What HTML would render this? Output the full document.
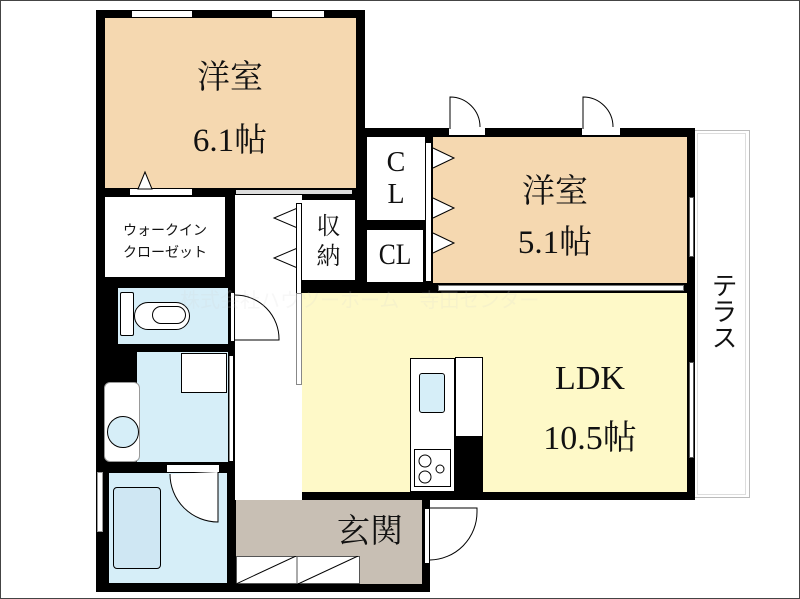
<!DOCTYPE html>
<html><head><meta charset="utf-8"><style>
body{margin:0;width:800px;height:599px;background:#fff;position:relative;overflow:hidden;font-family:"Liberation Serif","Noto Serif CJK SC",serif}
div{position:absolute;box-sizing:border-box}
.k{background:#000}
.w{background:#fff}
.t{color:#111;text-align:center;line-height:1}
</style></head><body>
<div style="left:0;top:0;width:800px;height:599px;border:1px solid #444"></div>
<!-- terrace -->
<div style="left:693px;top:130px;width:57px;height:368px;border:1px solid #bbb"></div>
<div style="left:697px;top:133px;width:49px;height:362px;border:1px solid #ddd"></div>
<div class="t" style="left:706px;top:272px;width:30px;font-size:26px;font-family:'Liberation Sans','Noto Sans CJK JP',sans-serif;writing-mode:vertical-rl">テラス</div>

<div class="k" style="left:96px;top:10px;width:269px;height:582px"></div>
<div class="k" style="left:96px;top:128px;width:599px;height:372px"></div>
<div class="k" style="left:96px;top:490px;width:334px;height:102px"></div>

<!-- 6.1 room -->
<div style="left:105px;top:18px;width:251px;height:170px;background:#f5d8b0"></div>
<div class="w" style="left:132px;top:11px;width:60px;height:6px"></div>
<div class="w" style="left:272px;top:11px;width:52px;height:6px"></div>
<div class="w" style="left:130px;top:189px;width:62px;height:6px"></div>
<div class="t" style="left:150px;top:62px;width:160px;font-size:33px">洋室</div>
<div class="t" style="left:150px;top:125px;width:160px;font-size:33px">6.1帖</div>
<svg style="position:absolute;left:136px;top:170px" width="18" height="20"><polygon points="2,19 9,2 16,19" fill="#fff" stroke="#000"/></svg>

<!-- walk-in closet -->
<div class="w" style="left:105px;top:197px;width:120px;height:80px"></div>
<div class="t" style="left:105px;top:219px;width:120px;font-size:14px;font-family:'Liberation Sans','Noto Sans CJK JP',sans-serif;line-height:22px">ウォークイン<br>クローゼット</div>

<!-- hallway -->
<div class="w" style="left:235px;top:195px;width:67px;height:305px"></div>
<div style="left:236px;top:190px;width:116px;height:4px;background:#ddd"></div>
<svg style="position:absolute;left:270px;top:205px" width="30" height="70"><polyline points="30,2 4,13 30,24" fill="none" stroke="#000"/><polyline points="30,42 4,53 30,64" fill="none" stroke="#000"/></svg>
<div style="left:296px;top:203px;width:6px;height:96px;background:#fff;border:1px solid #000"></div>
<div class="w" style="left:302px;top:200px;width:53px;height:80px"></div>
<div class="t" style="left:302px;top:212px;width:53px;font-size:24px;line-height:30px">収<br>納</div>

<!-- toilet -->
<div style="left:118px;top:288px;width:110px;height:56px;background:#d6eef8"></div>
<div class="w" style="left:120px;top:292px;width:14px;height:44px;border:1px solid #000;border-radius:2px"></div>
<div style="left:134px;top:302px;width:56px;height:28px;border:1px solid #000;border-radius:16px;background:#fff"></div>
<div style="left:152px;top:306px;width:34px;height:18px;border:1px solid #000;border-radius:10px"></div>
<div class="w" style="left:230px;top:292px;width:5px;height:50px;border:1px solid #000"></div>
<svg style="position:absolute;left:234px;top:290px" width="50" height="60"><path d="M1,50 L45,50 A44,44 0 0 0 1,5" fill="none" stroke="#000"/></svg>

<!-- wash -->
<div style="left:137px;top:352px;width:91px;height:110px;background:#d6eef8"></div>
<div class="w" style="left:181px;top:353px;width:46px;height:40px;border:1px solid #000"></div>
<div style="left:104px;top:382px;width:36px;height:80px;background:#fff;border:1px solid #999;border-radius:6px"></div>
<div style="left:107px;top:416px;width:32px;height:32px;border:1px solid #000;border-radius:50%;background:#d6eef8"></div>
<div class="w" style="left:229px;top:356px;width:4px;height:105px;border-left:1px solid #888"></div>

<!-- bath -->
<div style="left:108px;top:472px;width:120px;height:112px;background:#d6eef8;border:1px solid #000"></div>
<div style="left:113px;top:487px;width:48px;height:82px;border:1px solid #000;border-radius:4px;background:#cfe7f3"></div>
<div class="w" style="left:167px;top:465px;width:52px;height:7px"></div>
<svg style="position:absolute;left:168px;top:470px" width="60" height="60"><path d="M50,2 L50,52 A48,48 0 0 1 2,4" fill="#fff" stroke="#000"/></svg>
<div class="w" style="left:97px;top:472px;width:6px;height:60px;border:1px solid #999"></div>

<!-- genkan -->
<div style="left:236px;top:500px;width:186px;height:84px;background:#c8bfb4"></div>
<div class="w" style="left:236px;top:556px;width:124px;height:28px;border:1px solid #555"></div>
<svg style="position:absolute;left:236px;top:556px" width="124" height="28"><line x1="0" y1="28" x2="60" y2="0" stroke="#000"/><line x1="62" y1="28" x2="122" y2="0" stroke="#000"/><line x1="61" y1="0" x2="61" y2="28" stroke="#555"/></svg>
<div class="t" style="left:330px;top:516px;width:80px;font-size:33px">玄関</div>
<div class="w" style="left:424px;top:508px;width:6px;height:56px;border:1px solid #000"></div>
<svg style="position:absolute;left:429px;top:505px" width="50" height="60"><path d="M1,3 L48,3 L48,7 M1,55 A48,48 0 0 0 48,7" fill="none" stroke="#000"/></svg>

<!-- CL -->
<div class="w" style="left:367px;top:137px;width:58px;height:83px"></div>
<div class="t" style="left:367px;top:147px;width:58px;font-size:28px;line-height:32px">C<br>L</div>
<div class="w" style="left:367px;top:230px;width:56px;height:52px"></div>
<div class="t" style="left:367px;top:240px;width:56px;font-size:30px;transform:scaleX(.85)">CL</div>
<div class="w" style="left:425px;top:142px;width:7px;height:140px;border:1px solid #000"></div>

<!-- 5.1 room -->
<div style="left:433px;top:137px;width:254px;height:146px;background:#f5d8b0"></div>
<svg style="position:absolute;left:432px;top:140px" width="25" height="140"><polyline points="1,8 22,18 1,28" fill="#fff" stroke="#000"/><polyline points="1,58 22,68 1,78" fill="#fff" stroke="#000"/><polyline points="1,93 22,103 1,113" fill="#fff" stroke="#000"/></svg>
<div class="t" style="left:470px;top:176px;width:170px;font-size:33px">洋室</div>
<div class="t" style="left:470px;top:227px;width:170px;font-size:33px">5.1帖</div>
<div class="w" style="left:689px;top:197px;width:5px;height:60px;border:1px solid #555"></div>
<div class="w" style="left:449px;top:128px;width:36px;height:7px"></div>
<svg style="position:absolute;left:448px;top:95px" width="40" height="35"><path d="M2,34 L2,2 A30,30 0 0 1 32,32" fill="#fff" stroke="#000"/></svg>
<div class="w" style="left:582px;top:128px;width:38px;height:7px"></div>
<svg style="position:absolute;left:581px;top:95px" width="40" height="35"><path d="M2,34 L2,2 A30,30 0 0 1 32,32" fill="#fff" stroke="#000"/></svg>
<div class="w" style="left:438px;top:285px;width:246px;height:6px;border:1px solid #777"></div>

<!-- LDK -->
<div style="left:302px;top:293px;width:385px;height:199px;background:#fef9c8"></div>
<div class="w" style="left:296px;top:293px;width:6px;height:92px;border:1px solid #888"></div>
<div class="w" style="left:689px;top:362px;width:5px;height:96px;border:1px solid #555"></div>
<div class="w" style="left:410px;top:358px;width:45px;height:134px;border:1px solid #000"></div>
<div style="left:419px;top:373px;width:26px;height:40px;background:#d6eef8;border:1px solid #000;border-radius:3px"></div>
<div class="w" style="left:414px;top:449px;width:37px;height:38px;border:1px solid #000"></div>
<svg style="position:absolute;left:414px;top:449px" width="37" height="38"><circle cx="11" cy="12" r="6" fill="none" stroke="#000"/><circle cx="11" cy="28" r="6" fill="none" stroke="#000"/><circle cx="26" cy="20" r="4" fill="none" stroke="#000"/></svg>
<div class="w" style="left:455px;top:357px;width:28px;height:80px;border:1px solid #000"></div>
<div class="k" style="left:455px;top:436px;width:28px;height:56px"></div>
<div class="t" style="left:510px;top:362px;width:160px;font-size:34px">LDK</div>
<div class="t" style="left:510px;top:422px;width:160px;font-size:34px">10.5帖</div>

<div style="left:180px;top:284px;width:440px;color:rgba(210,210,210,.18);font-size:20px;font-family:'Liberation Sans','Noto Sans CJK JP',sans-serif">株式会社ハウツーホーム　寺田センター</div>
</body></html>
